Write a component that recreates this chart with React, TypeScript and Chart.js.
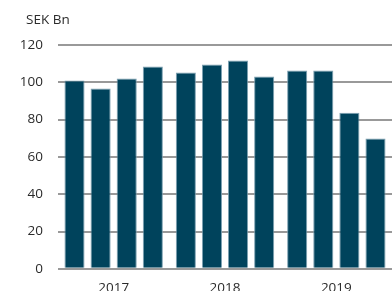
import React, { useEffect, useRef } from "react";
import { Chart, registerables } from "chart.js";

Chart.register(...registerables);

const years = ["2017", "2018", "2019"];
const q1 = [101.0, 105.3, 106.3];
const q2 = [96.7, 109.6, 106.3];
const q3 = [102.0, 111.7, 83.7];
const q4 = [108.5, 103.1, 69.9];
const quarterNames = ["Q1", "Q2", "Q3", "Q4"];
const yTicks = [0, 20, 40, 60, 80, 100, 120];
const unitLabel = "SEK Bn";

const FONT = "'Open Sans', sans-serif";
const BAR = "#00435c";
const TEXT = "#2b2b2b";

export default function App() {
  const ref = useRef<HTMLCanvasElement | null>(null);
  useEffect(() => {
    if (!ref.current) return;
    const series = [q1, q2, q3, q4];
    const unitPlugin = {
      id: "unitLabel",
      afterDraw(chart: any) {
        const ctx = chart.ctx;
        ctx.save();
        ctx.font = `13.5px ${FONT}`;
        ctx.fillStyle = TEXT;
        ctx.textAlign = "left";
        ctx.textBaseline = "middle";
        ctx.fillText(unitLabel, 26, 20);
        ctx.restore();
      },
    };
    const chart = new Chart(ref.current, {
      type: "bar",
      data: {
        labels: years,
        datasets: series.map((d, i) => ({
          label: quarterNames[i],
          data: d,
          backgroundColor: BAR,
          borderColor: "rgba(110,150,168,0.9)",
          borderWidth: { top: 1, left: 1, right: 1, bottom: 0 },
          categoryPercentage: 0.938,
          barPercentage: 0.77,
        })),
      },
      options: {
        animation: false,
        responsive: true,
        maintainAspectRatio: false,
        layout: { padding: { top: 45, left: 0, right: 0, bottom: 6 } },
        plugins: { legend: { display: false }, tooltip: { enabled: false }, title: { display: false } },
        scales: {
          x: {
            grid: { display: false, drawTicks: false },
            border: { display: false },
            ticks: { color: TEXT, font: { family: FONT, size: 13.5 }, padding: 11 },
          },
          y: {
            min: 0,
            max: 120,
            afterFit(scale: any) {
              scale.width = 58;
            },
            afterBuildTicks(scale: any) {
              scale.ticks = yTicks.map((v) => ({ value: v }));
            },
            grid: { color: "#999999", lineWidth: 2, drawTicks: false },
            border: { display: false },
            ticks: { color: TEXT, font: { family: FONT, size: 13.5 }, padding: 15 },
          },
        },
      },
      plugins: [unitPlugin],
    });
    return () => chart.destroy();
  }, []);
  return (
    <div style={{ position: "absolute", left: 0, top: 0, width: 392, height: 313 }}>
      <canvas ref={ref} />
    </div>
  );
}
